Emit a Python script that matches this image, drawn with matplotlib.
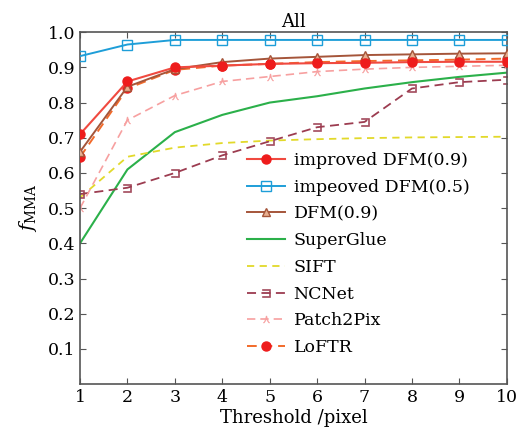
import numpy as np
import matplotlib
matplotlib.use('Agg')
from matplotlib import pyplot as plt

plt.rcParams['font.family'] = ['DejaVu Serif']
plt.rcParams['mathtext.fontset'] = 'dejavuserif'

x = [1, 2, 3, 4, 5, 6, 7, 8, 9, 10]
imp_dfm09 = [0.71, 0.86, 0.90, 0.905, 0.91, 0.912, 0.913, 0.915, 0.916, 0.916]
imp_dfm05 = [0.932, 0.965, 0.978, 0.978, 0.978, 0.978, 0.978, 0.978, 0.978, 0.978]
dfm09 = [0.66, 0.845, 0.895, 0.915, 0.925, 0.93, 0.935, 0.937, 0.939, 0.94]
superglue = [0.40, 0.61, 0.716, 0.765, 0.80, 0.818, 0.84, 0.858, 0.873, 0.885]
sift = [0.53, 0.646, 0.672, 0.685, 0.692, 0.696, 0.699, 0.701, 0.702, 0.703]
ncnet = [0.54, 0.558, 0.60, 0.65, 0.69, 0.73, 0.745, 0.84, 0.858, 0.865]
patch2pix = [0.50, 0.75, 0.82, 0.86, 0.874, 0.888, 0.895, 0.90, 0.903, 0.906]
loftr = [0.645, 0.84, 0.893, 0.905, 0.91, 0.915, 0.918, 0.92, 0.922, 0.925]

fig = plt.figure(figsize=(5.23, 4.41), dpi=100)
ax = fig.add_axes([0.153, 0.129, 0.816, 0.798])

ax.plot(x, superglue, color='#2bb04a', lw=1.5, label='SuperGlue', zorder=2)
ax.plot(x, sift, color='#e2d92a', lw=1.3, ls=(0, (4, 3)), label='SIFT', zorder=2)
ax.plot(x, ncnet, color='#9c3c50', lw=1.3, ls=(0, (5, 3)), marker='$\\sqsupset$', ms=6,
        mew=0.4, label='NCNet', zorder=2)
ax.plot(x, patch2pix, color='#f7a0a0', lw=1.2, ls=(0, (5, 3)), marker='$\\curlywedge$', ms=5,
        mew=0.3, label='Patch2Pix', zorder=2)
ax.plot(x, loftr, color='#f26a2a', lw=1.4, ls=(0, (5, 3)), marker='o', ms=6.5,
        mfc='#ee1c1c', mec='#ee1c1c', label='LoFTR', zorder=3)
ax.plot(x, dfm09, color='#a5553a', lw=1.4, marker='^', ms=5.5, mfc='#e8b090',
        mec='#a5553a', label='DFM(0.9)', zorder=3)
ax.plot(x, imp_dfm05, color='#1e9ed8', lw=1.4, marker='s', ms=6.5, mfc='none',
        mec='#1e9ed8', label='impeoved DFM(0.5)', zorder=3)
ax.plot(x, imp_dfm09, color='#f04a40', lw=1.5, marker='o', ms=6.5, mfc='#ee1c1c',
        mec='#ee1c1c', label='improved DFM(0.9)', zorder=4)

ax.set_xlim(1, 10)
ax.set_ylim(0, 1.0)
ax.set_xticks(x)
ax.set_yticks([0.1, 0.2, 0.3, 0.4, 0.5, 0.6, 0.7, 0.8, 0.9, 1.0])
ax.set_yticklabels(['0.1', '0.2', '0.3', '0.4', '0.5', '0.6', '0.7', '0.8', '0.9', '1.0'])
ax.tick_params(direction='in', top=True, right=True, labelsize=12.5, length=4,
               color='#555555')
for s in ax.spines.values():
    s.set_color('#555555')
    s.set_linewidth(1.2)

ax.set_title('All', fontsize=13, pad=4)
ax.set_xlabel('Threshold /pixel', fontsize=13, labelpad=2)
ax.set_ylabel('$f_{\\mathrm{MMA}}$', fontsize=14, labelpad=6)

handles, labels = ax.get_legend_handles_labels()
order = ['improved DFM(0.9)', 'impeoved DFM(0.5)', 'DFM(0.9)', 'SuperGlue', 'SIFT',
         'NCNet', 'Patch2Pix', 'LoFTR']
h = [handles[labels.index(l)] for l in order]
ax.legend(h, order, loc='lower right', bbox_to_anchor=(0.945, 0.04), frameon=False,
          fontsize=12.5, handlelength=2.2, handletextpad=0.5, labelspacing=0.56,
          borderpad=0.3)

plt.savefig('out.png', dpi=100)
